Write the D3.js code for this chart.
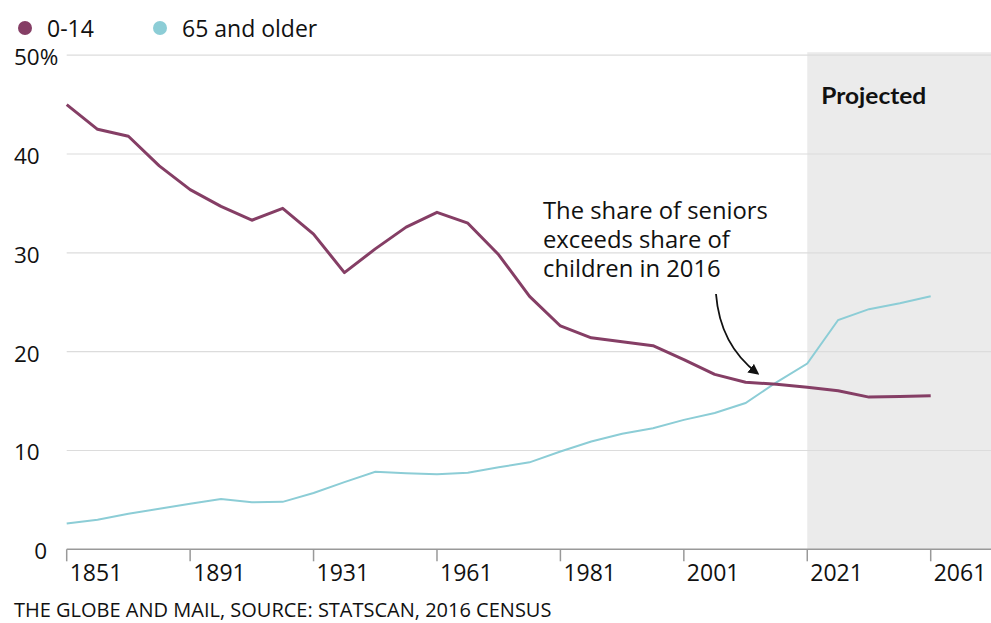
<!DOCTYPE html>
<html>
<head>
<meta charset="utf-8">
<script src="https://cdn.jsdelivr.net/npm/d3@7"></script>
<style>
  html, body { margin: 0; padding: 0; background: #fff; }
  svg { display: block; font-family: "Open Sans", "Noto Sans", sans-serif; }
</style>
</head>
<body>
<svg id="chart" width="991" height="623"></svg>
<script>
// ---- data ----
const years = ["1851","1861","1871","1881","1891","1901","1911","1921","1931","1941","1951","1956","1961","1966","1971","1976","1981","1986","1991","1996","2001","2006","2011","2016","2021","2031","2041","2051","2061"];
const children = [45.0,42.5,41.8,38.8,36.4,34.7,33.3,34.5,31.9,28.0,30.4,32.6,34.1,33.0,29.8,25.6,22.6,21.4,21.0,20.6,19.2,17.7,16.9,16.7,16.4,16.05,15.4,15.45,15.55];
const seniors = [2.6,3.0,3.6,4.1,4.6,5.1,4.75,4.8,5.7,6.8,7.85,7.7,7.6,7.75,8.3,8.8,9.9,10.9,11.7,12.25,13.1,13.8,14.8,16.9,18.8,23.2,24.3,24.9,25.6];
const xTickLabels = ["1851","1891","1931","1961","1981","2001","2021","2061"];
const yTicks = [0,10,20,30,40,50];
const seriesNames = ["0-14","65 and older"];
const projectedStart = "2021";

// ---- setup ----
const W = 991, H = 623;
const svg = d3.select("#chart");
const x = d3.scalePoint().domain(years).range([66.7, 930.7]);
const y = d3.scaleLinear().domain([0, 50]).range([549.3, 55.2]);
const colors = ["#853e65", "#8ccdd6"];
const plotRight = W;

// projected shading
svg.append("rect")
  .attr("x", x(projectedStart)).attr("y", y(50) - 3)
  .attr("width", plotRight - x(projectedStart))
  .attr("height", y(0) - y(50) + 3)
  .attr("fill", "#ebebeb");

svg.append("text")
  .attr("x", x(projectedStart) + 14).attr("y", 104)
  .attr("font-family", "Lato, 'Open Sans', sans-serif")
  .attr("font-weight", 700).attr("font-size", 23)
  .attr("fill", "#111")
  .attr("textLength", 105).attr("lengthAdjust", "spacingAndGlyphs")
  .text("Projected");

// gridlines
svg.append("g").selectAll("line")
  .data(yTicks.filter(d => d > 0))
  .join("line")
  .attr("x1", x(years[0])).attr("x2", plotRight)
  .attr("y1", d => y(d)).attr("y2", d => y(d))
  .attr("stroke", "#dcdcdc").attr("stroke-width", 1.2);

// y labels
svg.append("g").selectAll("text")
  .data(yTicks)
  .join("text")
  .attr("x", d => d === 0 ? 47 : 14)
  .attr("y", d => y(d) + 4)
  .attr("text-anchor", d => d === 0 ? "end" : "start")
  .attr("dominant-baseline", "middle")
  .attr("font-size", 22.5)
  .attr("fill", "#111")
  .text(d => d === 50 ? "50%" : d);

// x axis
const tickIdx = [0,4,8,12,16,20,24,28];
const tickYears = tickIdx.map(i => years[i]);
svg.append("line")
  .attr("x1", x(years[0])).attr("x2", plotRight)
  .attr("y1", y(0)).attr("y2", y(0))
  .attr("stroke", "#999").attr("stroke-width", 1.5);
const xt = svg.append("g").selectAll("g")
  .data(tickYears)
  .join("g")
  .attr("transform", d => `translate(${x(d)},${y(0)})`);
xt.append("line").attr("y1", 0).attr("y2", 12).attr("stroke", "#999").attr("stroke-width", 1.5);
xt.append("text")
  .attr("x", 3).attr("y", 32)
  .attr("font-size", 23)
  .attr("fill", "#111")
  .text((d, i) => xTickLabels[i]);

// lines
const line = d3.line().x((d, i) => x(years[i])).y(d => y(d)).curve(d3.curveLinear);
svg.append("path").datum(seniors)
  .attr("d", line).attr("fill", "none")
  .attr("stroke", colors[1]).attr("stroke-width", 2);
svg.append("path").datum(children)
  .attr("d", line).attr("fill", "none")
  .attr("stroke", colors[0]).attr("stroke-width", 3).attr("stroke-linejoin", "round");

// legend
const legendX = [25, 160];
const lg = svg.append("g").selectAll("g")
  .data(seriesNames)
  .join("g")
  .attr("transform", (d, i) => `translate(${legendX[i]},28)`);
lg.append("circle").attr("r", 7).attr("fill", (d, i) => colors[i]);
lg.append("text").attr("x", 22).attr("y", 9)
  .attr("font-size", 23).attr("fill", "#111").text(d => d);

// annotation
const annoLines = ["The share of seniors", "exceeds share of", "children in 2016"];
svg.append("g").selectAll("text")
  .data(annoLines)
  .join("text")
  .attr("x", 543).attr("y", (d, i) => 219 + i * 29)
  .attr("font-size", 23.8).attr("fill", "#111")
  .text(d => d);

const defs = svg.append("defs");
defs.append("marker")
  .attr("id", "arrow").attr("viewBox", "0 0 10 10")
  .attr("refX", 8).attr("refY", 5)
  .attr("markerWidth", 6).attr("markerHeight", 6)
  .attr("orient", "auto-start-reverse")
  .append("path").attr("d", "M0,0 L10,5 L0,10 z").attr("fill", "#111");
const ax = x("2011") + 12, ay = y(17.8);
svg.append("path")
  .attr("d", `M716,294 Q720,345 ${ax},${ay}`)
  .attr("fill", "none").attr("stroke", "#111").attr("stroke-width", 1.8)
  .attr("marker-end", "url(#arrow)");

// footer
svg.append("text")
  .attr("x", 14).attr("y", 617)
  .attr("font-size", 20).attr("fill", "#111")
  .text("THE GLOBE AND MAIL, SOURCE: STATSCAN, 2016 CENSUS");
</script>
</body>
</html>
